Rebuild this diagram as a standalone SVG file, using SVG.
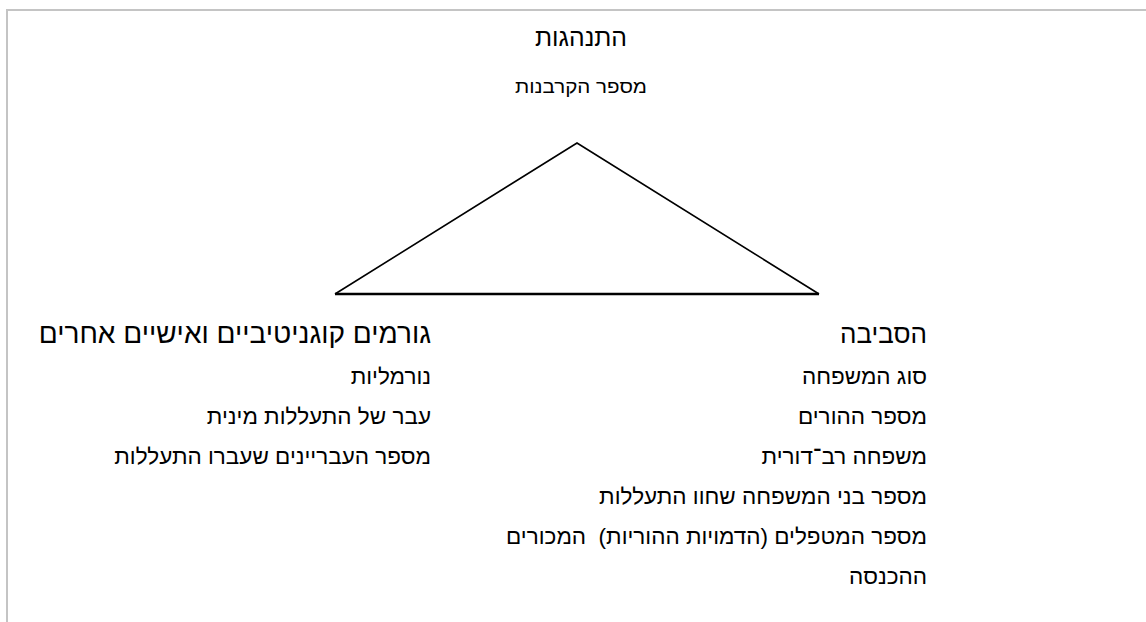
<svg xmlns="http://www.w3.org/2000/svg" width="1146" height="622" viewBox="0 0 1146 622">
  <style>
    .t { font-family: "Liberation Sans", "DejaVu Sans", sans-serif; fill: #000; }
    .rtl { direction: rtl; text-anchor: start; }
    .mid { text-anchor: middle; }
    .h { font-size: 26px; }
    .hl { font-size: 28px; }
    .i { font-size: 22.5px; }
    .frame { stroke: #c4c4c4; stroke-width: 2; fill: none; }
    .edge { stroke: #000; stroke-width: 1.6; fill: none; stroke-linejoin: miter; }
  </style>
  <rect width="1146" height="622" fill="#fff"/>
  <g id="frame">
    <path class="frame" d="M7 622 V10 H1146"/>
  </g>
  <g id="connectors">
    <polyline class="edge" points="335,294 577,143 819,294"/>
    <line x1="335" y1="294" x2="819" y2="294" stroke="#000" stroke-width="2.4"/>
  </g>
  <g id="node-behavior">
    <text class="t mid" x="581" y="46" font-size="25" textLength="92" lengthAdjust="spacingAndGlyphs">התנהגות</text>
    <text class="t mid" x="581" y="93" font-size="19" textLength="132" lengthAdjust="spacingAndGlyphs">מספר הקרבנות</text>
  </g>
  <g id="node-environment">
    <text class="t rtl h" x="927" y="343">הסביבה</text>
    <text class="t rtl i" x="927" y="384">סוג המשפחה</text>
    <text class="t rtl i" x="927" y="424">מספר ההורים</text>
    <text class="t rtl i" x="927" y="464">משפחה רב־דורית</text>
    <text class="t rtl i" x="927" y="504">מספר בני המשפחה שחוו התעללות</text>
    <text class="t rtl i" x="927" y="544" xml:space="preserve">מספר המטפלים (הדמויות ההוריות)  המכורים</text>
    <text class="t rtl i" x="927" y="584">ההכנסה</text>
  </g>
  <g id="node-cognitive">
    <text class="t rtl hl" x="431" y="343">גורמים קוגניטיביים ואישיים אחרים</text>
    <text class="t rtl i" x="431" y="384">נורמליות</text>
    <text class="t rtl i" x="431" y="424">עבר של התעללות מינית</text>
    <text class="t rtl i" x="431" y="464">מספר העבריינים שעברו התעללות</text>
  </g>
</svg>
